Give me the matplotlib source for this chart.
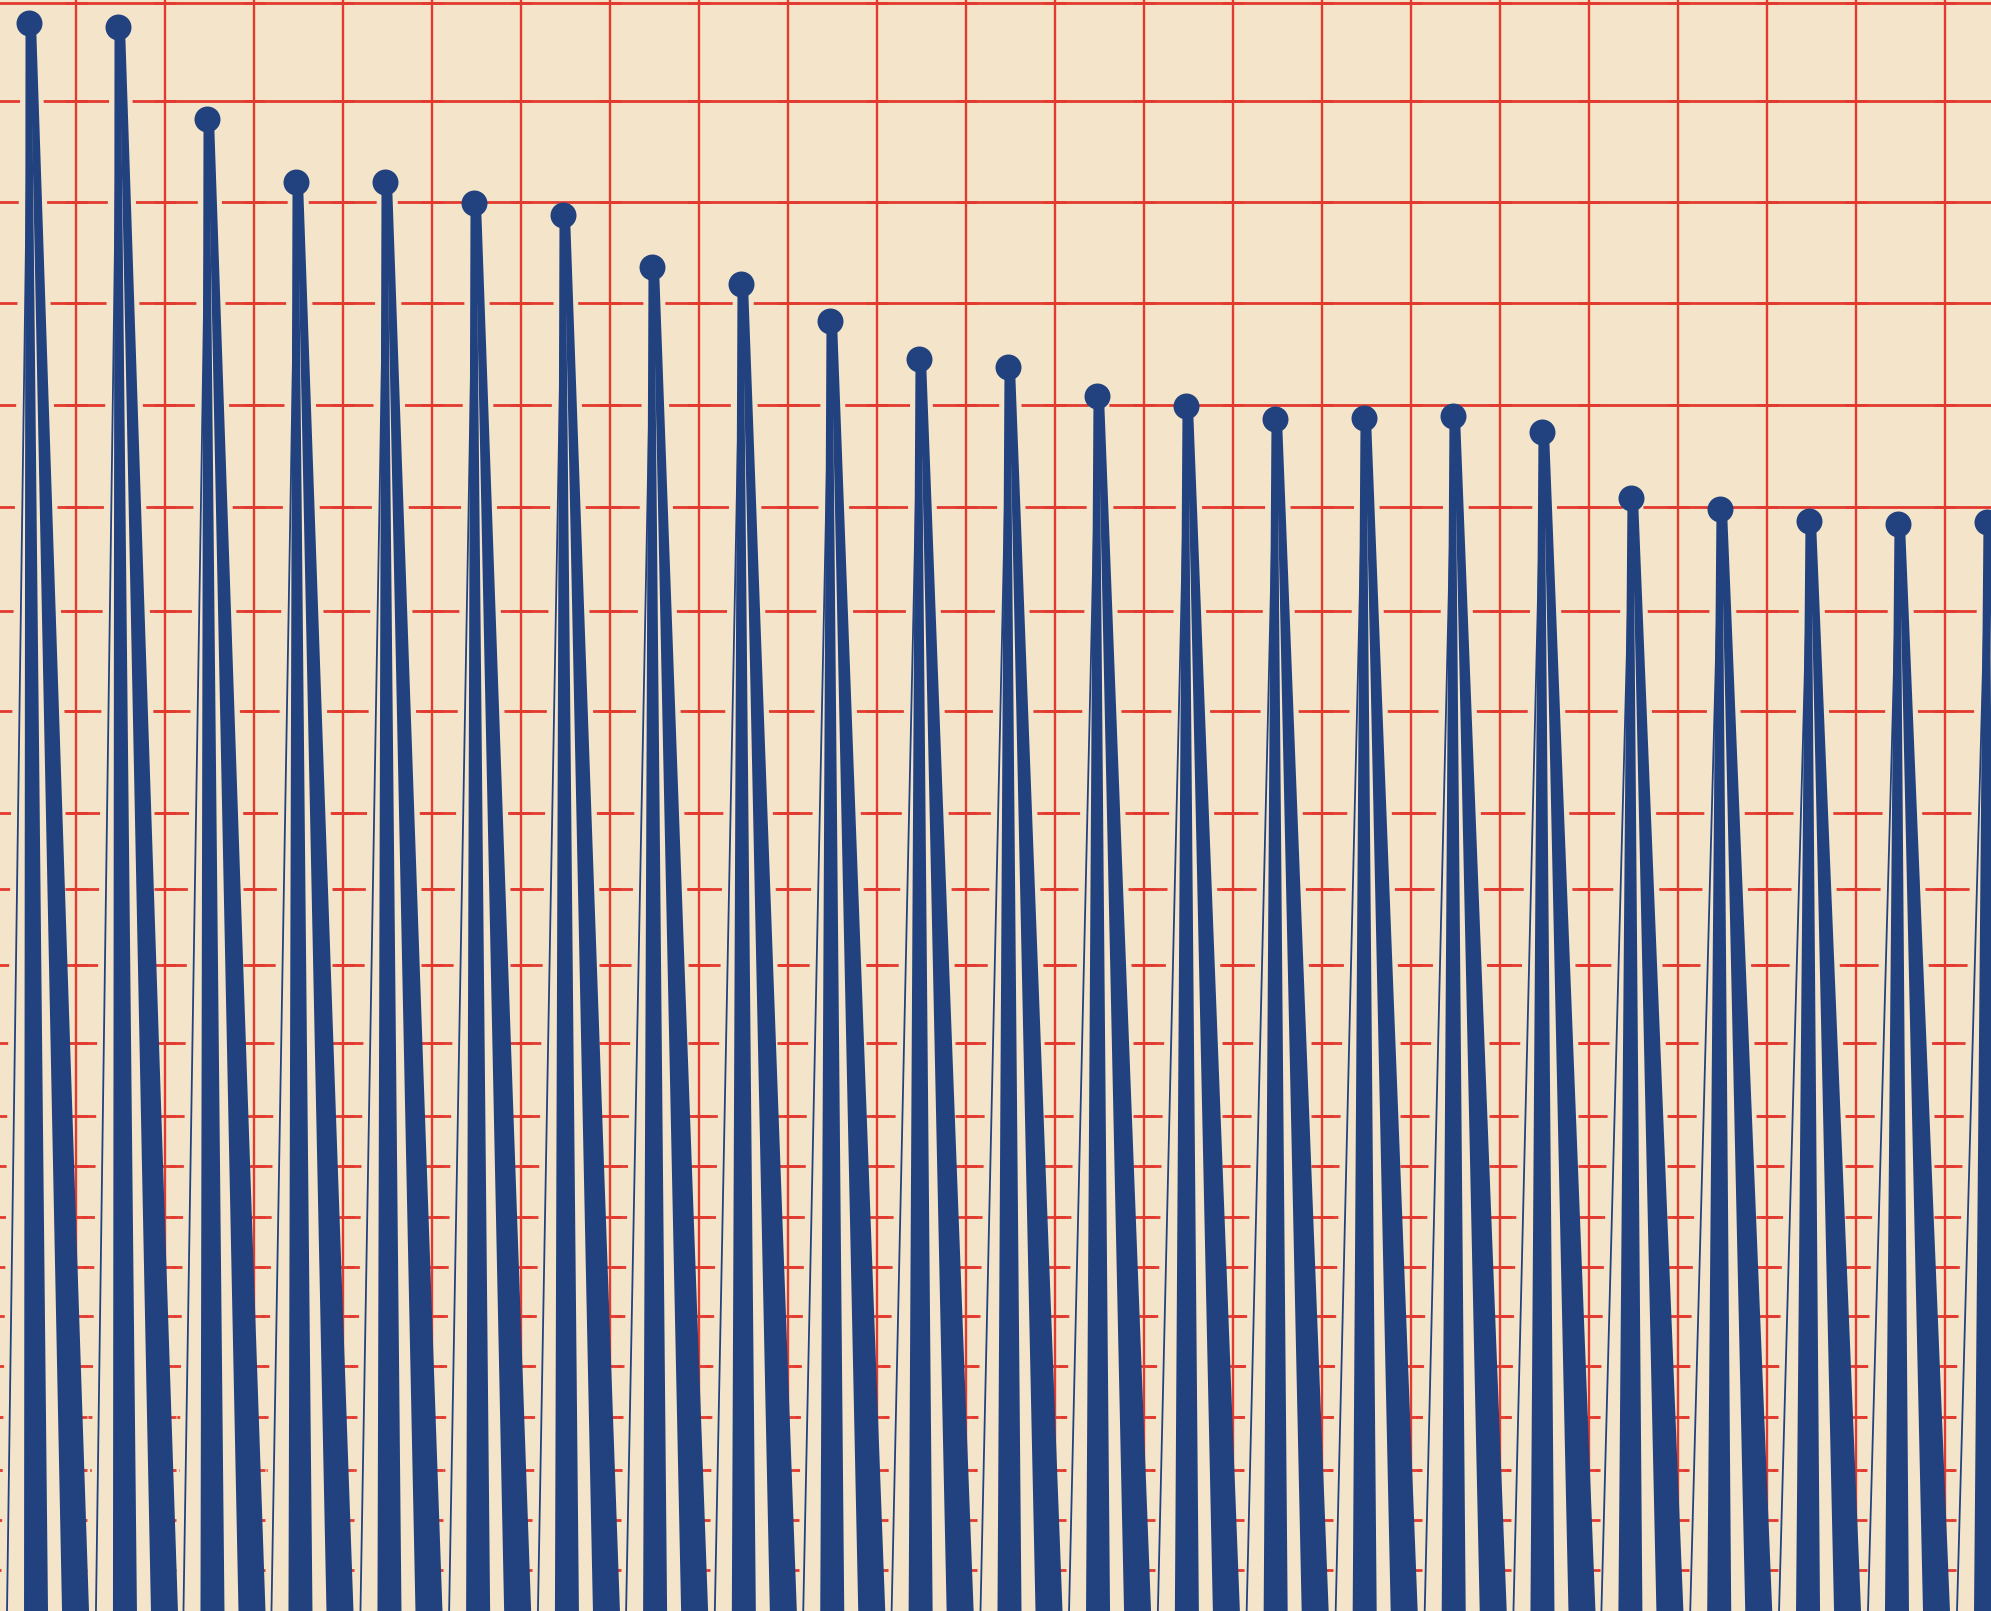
import matplotlib.pyplot as plt
import numpy as np

# peak heights (height above the bottom edge)
peak_height = [1588, 1584, 1492, 1429, 1429, 1408, 1396, 1344, 1327, 1290, 1252, 1244,
               1215, 1205, 1192, 1193, 1195, 1179, 1113, 1102, 1090, 1087, 1089]
# horizontal ruling of the paper (not evenly spaced)
grid_levels = [1608, 1510, 1409, 1308, 1206, 1104, 1000, 900, 798, 722, 646, 568,
               495, 445, 394, 344, 295, 245, 194, 141, 91, 41]

paper = '#f4e5ca'
red = '#e23a2e'
navy = '#22427f'

n = len(peak_height)
x = np.arange(n)

fig = plt.figure(figsize=(19.91, 16.11), dpi=100)
fig.patch.set_facecolor(paper)
ax = fig.add_axes([0, 0, 1, 1])
ax.set_facecolor(paper)
ax.set_xlim(-0.326, 22.045)
ax.set_ylim(0, 1611)
ax.axis('off')

px = 1 / 89.0  # one pixel in x units

# ruled paper: horizontal lines first, spikes cut them later
for g in grid_levels:
    ax.axhline(g, color=red, lw=2.0, zorder=1)

vgrid = x[:-1] + 0.53
for v in vgrid:
    ax.axvline(v, color=red, lw=1.7, zorder=3)
# short crosses where the ruling meets the vertical lines
for v in vgrid:
    ax.hlines(grid_levels, v - 11 * px, v + 11 * px, color=red, lw=2.0, zorder=3)

for xi, h in zip(x, peak_height):
    s = 0.016 * (h - 1588)  # shorter spikes lean a bit more to the left
    thin = -22 + s
    a0, a1 = -5 + s, 19 + s
    b0, b1 = 33 + s, 60 + s

    # clear the ruling around the spike
    ax.fill([xi - 8 * px, xi + 12 * px, xi + (b1 + 6) * px, xi + (thin - 6) * px],
            [h, h, 0, 0], color=paper, lw=0, zorder=2)

    # thin left stroke
    ax.plot([xi, xi + thin * px], [h, 0], color=navy, lw=1.3, zorder=4)
    # two wide bands, already a few pixels wide under the knob
    ax.fill([xi - 3.5 * px, xi + 2.5 * px, xi + a1 * px, xi + a0 * px],
            [h, h, 0, 0], color=navy, lw=0, zorder=4)
    ax.fill([xi + 1 * px, xi + 7 * px, xi + b1 * px, xi + b0 * px],
            [h, h, 0, 0], color=navy, lw=0, zorder=4)

# knob on top of each spike
ax.scatter(x, peak_height, s=350, color=navy, linewidths=0, zorder=5)

fig.savefig('out.png', dpi=100, facecolor=paper)
